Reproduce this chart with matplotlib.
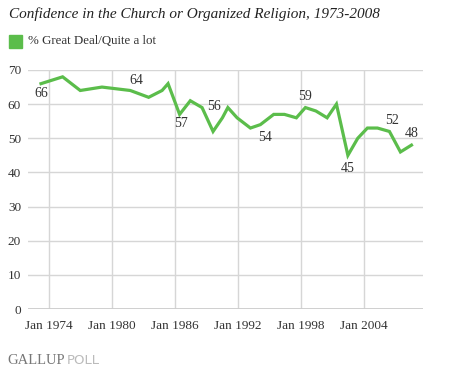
import matplotlib
matplotlib.use("Agg")
import matplotlib.pyplot as plt

# Gallup: confidence in the church or organized religion (% great deal/quite a lot)
years = [1973.24, 1975.30, 1976.98, 1979.05, 1981.75, 1983.50, 1984.78, 1985.35,
         1986.45, 1987.47, 1988.59, 1989.64, 1990.53, 1991.05, 1991.93, 1993.20,
         1994.15, 1995.42, 1996.44, 1997.58, 1998.44, 1999.44, 2000.51, 2001.40,
         2002.49, 2003.43, 2004.35, 2005.31, 2006.45, 2007.50, 2008.55]
values = [66, 68, 64, 65, 64, 62, 64, 66,
          57, 61, 59, 52, 56, 59, 56, 53,
          54, 57, 57, 56, 59, 58, 56, 60,
          45, 50, 53, 53, 52, 46, 48]

tick_years = [1974, 1980, 1986, 1992, 1998, 2004]
tick_labels = ["Jan 1974", "Jan 1980", "Jan 1986", "Jan 1992", "Jan 1998", "Jan 2004"]

# labelled points: index into the series, label offset in pixels
labels = {0: (0, -10), 4: (6, 10), 8: (1, -9), 12: (-8, 11), 16: (5, -13),
          20: (0, 11), 24: (0, -13), 28: (3, 11), 30: (0, 12)}

green = "#5BBD4B"
grid_col = "#d6d6d6"
text_col = "#333333"
serif = ["Liberation Serif", "DejaVu Serif"]

fig = plt.figure(figsize=(4.54, 3.71), dpi=100)
ax = fig.add_axes([28 / 454, 1 - 309 / 371, 395 / 454, 239 / 371])

ax.plot(years, values, color=green, lw=2.3, solid_joinstyle="miter", zorder=3)

for i, (dx, dy) in labels.items():
    ax.annotate(str(values[i]), (years[i], values[i]), xytext=(dx, dy),
                textcoords="offset pixels", ha="center", va="center",
                fontsize=10, family=serif, color=text_col)

ax.set_xlim(1972.0, 2009.65)
ax.set_ylim(0, 70)
ax.set_yticks(range(0, 71, 10))
ax.set_xticks(tick_years)
ax.set_xticklabels(tick_labels)

ax.grid(True, color=grid_col, lw=1)
ax.set_axisbelow(True)
for s in ax.spines.values():
    s.set_visible(False)
ax.axhline(0, color="#cccccc", lw=2, zorder=2)
ax.tick_params(length=0, labelsize=9.5, colors=text_col, pad=5)
ax.tick_params(axis="x", pad=8)
for t in ax.get_xticklabels() + ax.get_yticklabels():
    t.set_family(serif)

fig.text(9 / 454, 1 - 14 / 371, "Confidence in the Church or Organized Religion, 1973-2008",
         fontsize=11, style="italic", family=serif, color="#222222", va="center")
fig.patches.append(plt.Rectangle((9 / 454, 1 - 48 / 371), 13 / 454, 13 / 371,
                                 transform=fig.transFigure, color=green))
fig.text(28 / 454, 1 - 41.5 / 371, "% Great Deal/Quite a lot", fontsize=9.3,
         family=serif, color=text_col, va="center")

g = fig.text(7 / 454, 1 - 360 / 371, "GALLUP", fontsize=10.5, family=serif,
             color="#777777", va="center")
fig.canvas.draw()
bb = g.get_window_extent()
fig.text((bb.x1 + 2) / 454, 1 - 360 / 371, "POLL", fontsize=9.5, family="DejaVu Sans",
         color="#bbbbbb", va="center")

fig.savefig("out.png", dpi=100)
